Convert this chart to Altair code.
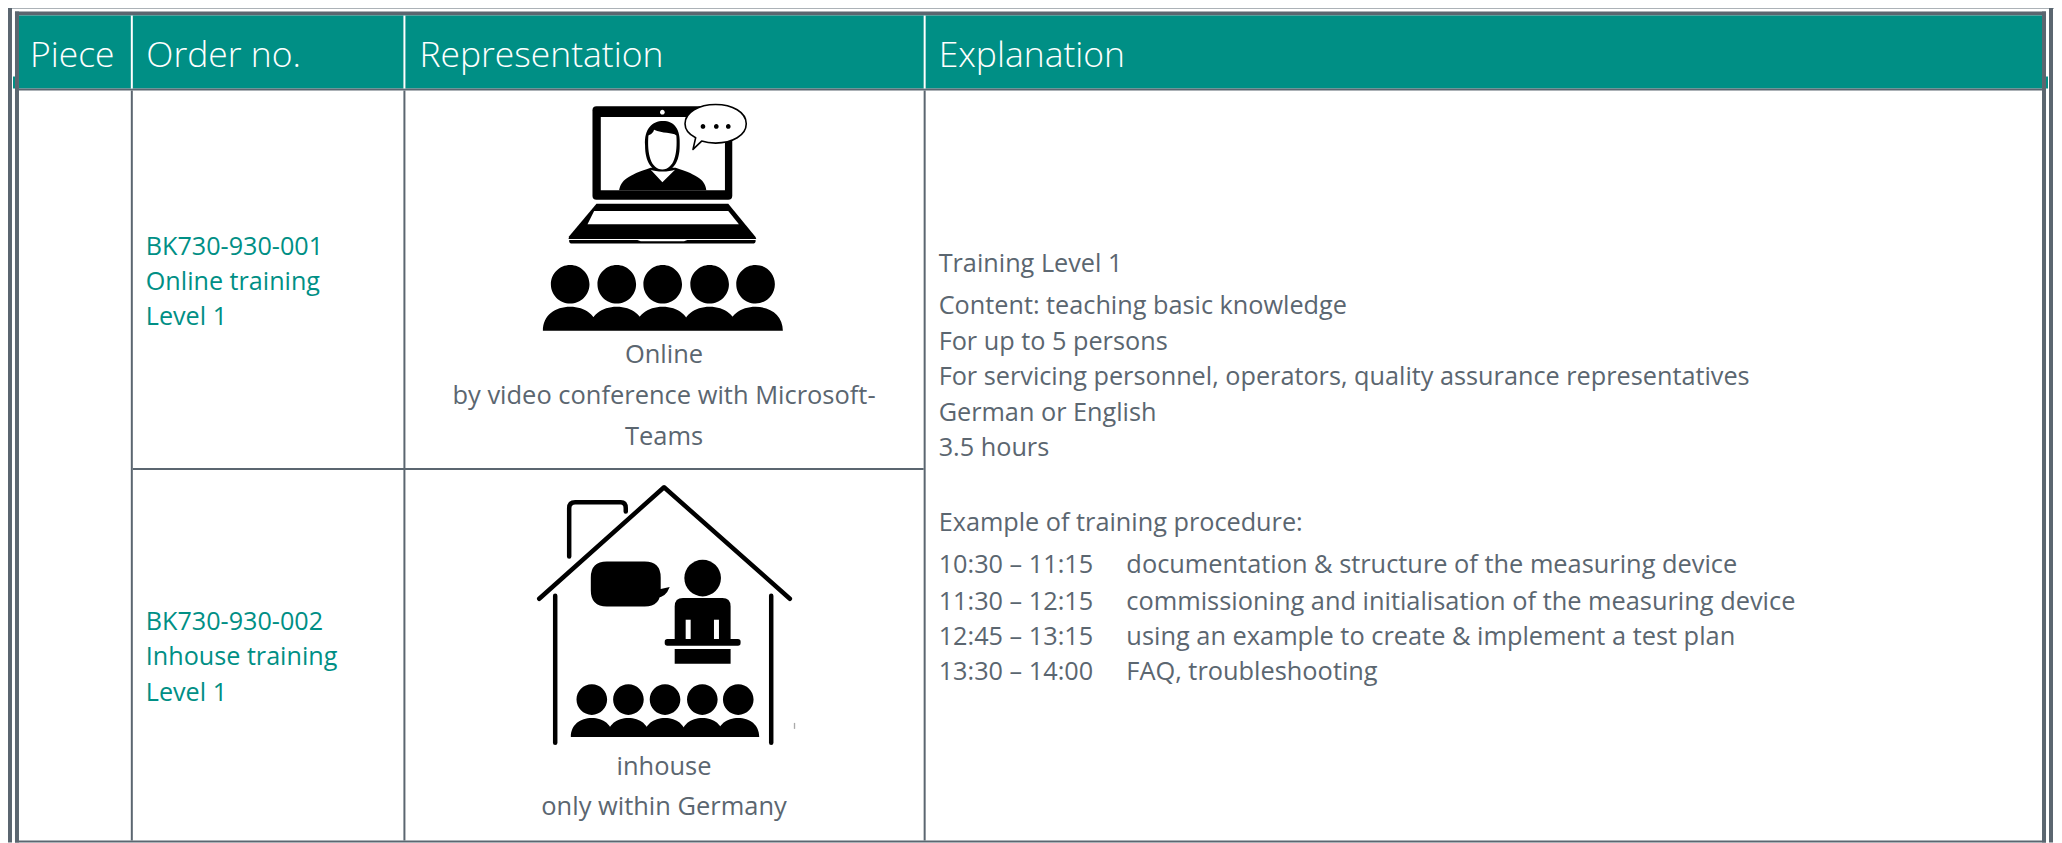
import altair as alt
import pandas as pd

GRAY = "#5b6670"
TEAL = "#008f85"
BODY = "Open Sans"

# ---- table structure (reference pixel coordinates) ----
frame_left = [8, 2052, 8, 15, 15, 2045, 15]
frame_right = [12, 2056, 2057, 2049, 19, 2049, 2049]
frame_top = [3, 3, 4, 11, 11, 11, 841]
frame_bottom = [843, 843, 8, 15, 843, 843, 843]

header_left = [19, 13, 2049]
header_right = [2045, 15, 2051]
header_top = [15, 76, 76]
header_bottom = [88, 88, 88]

line_left = [19, 131, 404, 925, 133]
line_right = [2045, 133, 406, 927, 925]
line_top = [88, 90, 90, 90, 468]
line_bottom = [90, 841, 841, 841, 470]

white_left = [131, 404, 925]
white_right = [133, 406, 927]
white_top = [15, 15, 15]
white_bottom = [88, 88, 88]

# ---- texts ----
head_text = ["Piece", "Order no.", "Representation", "Explanation"]
head_x = [30, 146.5, 420, 940]
head_y = [55.5, 55.5, 55.5, 55.5]

order_text = ["BK730-930-001", "Online training", "Level 1",
              "BK730-930-002", "Inhouse training", "Level 1"]
order_y = [247, 282, 317, 622, 657, 693]

rep_text = ["Online", "by video conference with Microsoft-", "Teams",
            "inhouse", "only within Germany"]
rep_y = [355, 396, 437, 768, 808]

exp_text = ["Training Level 1", "Content: teaching basic knowledge",
            "For up to 5 persons",
            "For servicing personnel, operators, quality assurance representatives",
            "German or English", "3.5 hours", "Example of training procedure:",
            "10:30 \u2013 11:15", "11:30 \u2013 12:15", "12:45 \u2013 13:15", "13:30 \u2013 14:00"]
exp_y = [264, 306, 342, 377, 413, 448, 523, 565, 602, 637, 672]

desc_text = ["documentation & structure of the measuring device",
             "commissioning and initialisation of the measuring device",
             "using an example to create & implement a test plan",
             "FAQ, troubleshooting"]
desc_y = [565, 602, 637, 672]

# ---- icon glyphs, as SVG paths in 3x crop units ----
def people(centres, rx, top, base):
    out = ""
    for c in centres:
        k = rx * 0.55
        out += (f"M{c-rx} {base}C{c-rx} {top+(base-top)*0.35} {c-k} {top} {c} {top}"
                f"C{c+k} {top} {c+rx} {top+(base-top)*0.35} {c+rx} {base}Z")
    return out

def discs(centres, cy, r):
    return "".join(f"M{c-r} {cy}A{r} {r} 0 1 1 {c+r} {cy}A{r} {r} 0 1 1 {c-r} {cy}Z" for c in centres)

def rrect(x0, y0, x1, y1, r):
    return (f"M{x0+r} {y0}L{x1-r} {y0}Q{x1} {y0} {x1} {y0+r}L{x1} {y1-r}Q{x1} {y1} {x1-r} {y1}"
            f"L{x0+r} {y1}Q{x0} {y1} {x0} {y1-r}L{x0} {y0+r}Q{x0} {y0} {x0+r} {y0}Z")

laptop_black = [
    rrect(220, 47, 640, 328, 12),
    "M232 340L628 340L710 440L712 446L148 446L150 438Z",
    "M150 449L355 449L365 453L495 453L505 449L710 449Q712 460 700 460L160 460Q148 460 150 449Z",
]
laptop_white = [
    "M245 80L618 80L618 300L245 300Z",
    discs([430], 65, 7),
    "M225 362L628 362L660 402L205 402Z",
]
person_black = [
    "M300 300C305 270 325 255 395 232L470 232C540 255 558 270 562 300Z",
    "M378 165C375 115 400 92 432 92C465 92 485 115 482 165C482 215 462 243 430 243C398 243 378 215 378 165Z",
]
person_white = [
    "M388 135C400 130 403 125 405 118C430 130 460 125 472 135C476 190 465 236 430 237C395 236 384 190 388 135Z",
    "M395 238C410 245 450 245 468 238L430 276Z",
]
bubble_white = "M498 100C498 65 540 42 590 42C640 42 682 65 682 100C682 135 640 158 590 158C575 158 560 156 548 152L522 177L530 142C510 132 498 118 498 100Z"
bubble_dots = discs([552, 592, 628], 108, 7)
crowd1 = discs([153, 293, 431, 572, 710], 582, 58) + people([153, 293, 431, 572, 710], 82, 650, 722)

house_lines = [
    "M90 387L465 52L843 387",
    "M180 260L180 115Q180 97 198 97L335 97Q350 97 350 115L350 125",
    "M138 378L138 820",
    "M787 378L787 820",
]
house_fill = [
    rrect(245, 275, 455, 410, 48) + "M445 360L482 352Q470 385 440 385Z",
    discs([581], 325, 55),
    "M497 410Q497 385 522 385L640 385Q665 385 665 410L665 508L497 508Z",
    rrect(467, 508, 695, 528, 8),
    "M497 538L665 538L665 582L497 582Z",
    discs([248, 358, 468, 580, 688], 690, 46) + people([248, 358, 468, 580, 688], 63, 745, 802),
]
house_white = ["M530 450L545 450L545 508L530 508Z", "M615 450L630 450L630 508L615 508Z"]
house_speck = ["M855 760L859 760L859 778L855 778Z"]

# ---- scales ----
xs = alt.Scale(domain=[8, 2057], range=[0, 2049], nice=False, zero=False)
ys = alt.Scale(domain=[8, 843], range=[0, 835], nice=False, zero=False)
X = lambda f: alt.X(f, type="quantitative", scale=xs, axis=None)
Y = lambda f: alt.Y(f, type="quantitative", scale=ys, axis=None)

def rects(left, right, top, bottom, color):
    df = pd.DataFrame({"x": left, "x2": right, "y": top, "y2": bottom})
    return alt.Chart(df).mark_rect(color=color, strokeWidth=0).encode(
        x=X("x"), x2="x2", y=Y("y"), y2="y2")

def texts(labels, x, y, color, size, align="left", font=BODY, weight=400):
    df = pd.DataFrame({"t": labels, "x": x, "y": y})
    return alt.Chart(df).mark_text(align=align, baseline="middle", color=color,
                                   fontSize=size, font=font, fontWeight=weight).encode(
        x=X("x"), y=Y("y"), text="t:N")

def glyphs(paths, ox, oy, color, stroke=False):
    df = pd.DataFrame({"x": [ox], "y": [oy]})
    layers = []
    for p in paths:
        if stroke:
            m = alt.Chart(df).mark_point(shape=p, size=4 / 9, filled=False, color=color,
                                         stroke=color, strokeWidth=stroke, strokeCap="round",
                                         strokeJoin="round", opacity=1)
        else:
            m = alt.Chart(df).mark_point(shape=p, size=4 / 9, filled=True, color=color,
                                         strokeWidth=0, opacity=1)
        layers.append(m.encode(x=X("x"), y=Y("y")))
    return layers

L1 = (520, 90)
L2 = (510, 470)

layers = [
    rects(frame_left, frame_right, frame_top, frame_bottom, GRAY),
    rects(header_left, header_right, header_top, header_bottom, TEAL),
    rects(line_left, line_right, line_top, line_bottom, GRAY),
    rects(white_left, white_right, white_top, white_bottom, "#ffffff"),
    texts(head_text, head_x, head_y, "#ffffff", 35.5, weight=300),
    texts(order_text, [146] * len(order_text), order_y, TEAL, 25.2),
    texts(rep_text, [665] * len(rep_text), rep_y, GRAY, 25.5, align="center"),
    texts(exp_text, [940] * len(exp_text), exp_y, GRAY, 25.3),
    texts(desc_text, [1128] * len(desc_text), desc_y, GRAY, 25.4),
]
layers += glyphs(laptop_black, *L1, "#000000")
layers += glyphs(laptop_white, *L1, "#ffffff")
layers += glyphs(person_black, *L1, "#000000")
layers += glyphs(person_white, *L1, "#ffffff")
layers += glyphs([bubble_white], *L1, "#ffffff")
layers += glyphs([bubble_white], *L1, "#000000", stroke=1.6)
layers += glyphs([bubble_dots, crowd1], *L1, "#000000")
layers += glyphs(house_lines, *L2, "#000000", stroke=4.5)
layers += glyphs(house_fill, *L2, "#000000")
layers += glyphs(house_white, *L2, "#ffffff")
layers += glyphs(house_speck, *L2, "#aaaaaa")

chart = alt.layer(*layers).properties(
    width=2049, height=835, padding=0, autosize=alt.AutoSizeParams(type="none"),
    background="#ffffff",
).configure_view(stroke=None)

chart.save("out.html", embed_options={"renderer": "svg", "actions": False})
